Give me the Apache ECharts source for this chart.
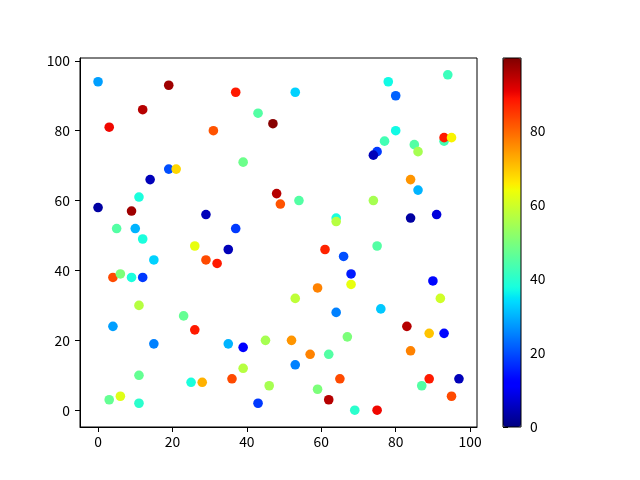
<!DOCTYPE html>
<html>
<head>
<meta charset="utf-8">
<script src="https://cdn.jsdelivr.net/npm/echarts@6/dist/echarts.min.js"></script>
<style>
html,body{margin:0;padding:0;background:#fff;}
#chart{width:640px;height:480px;}
</style>
</head>
<body>
<div id="chart"></div>
<script>
// Data
var xs = [0,19,37,12,43,47,3,31,39,19,21,14,48,49,0,9,29,5,10,37,11,12,53,78,94,80,80,77,85,86,93,93,95,75,74,84,86,54,74,64,64,84,91,26,35,15,29,32,4,6,9,12,11,23,26,4,15,35,39,45,39,11,25,28,36,46,3,6,11,43,75,61,66,68,68,90,59,53,92,64,76,83,89,93,52,67,57,62,84,53,65,89,97,87,59,62,95,69,75];
var ys = [94,93,91,86,85,82,81,80,71,69,69,66,62,59,58,57,56,52,52,52,61,49,91,94,96,90,80,77,76,74,77,78,78,74,73,66,63,60,60,55,54,55,56,47,46,43,43,42,38,39,38,38,30,27,23,24,19,19,18,20,12,10,8,8,9,7,3,4,2,2,47,46,44,39,36,37,35,32,32,28,29,24,22,22,20,21,16,16,17,13,9,9,9,7,6,3,4,0,0];
var cs = [28,97,88,95,45,99,90,82,48,20,68,5,95,82,3,97,5,45,30,18,38,38,33,37,42,22,37,43,45,55,43,88,65,18,5,75,30,45,55,38,57,3,8,63,5,33,83,88,83,50,38,18,57,47,88,28,25,30,12,55,57,47,38,72,83,55,47,62,40,18,45,87,20,15,63,13,77,58,60,25,32,95,70,13,75,50,77,45,77,25,83,88,5,45,50,95,83,40,90];
var tickVals = [0,20,40,60,80,100];
var cbarTicks = [0,20,40,60,80];

var points = xs.map(function(x,i){return [x, ys[i], cs[i]];});

// matplotlib "jet" colormap, piecewise linear segments
function seg(s, t){
  for (var i=1;i<s.length;i++){
    if (t<=s[i][0]){
      var a=s[i-1], b=s[i];
      var f=(t-a[0])/(b[0]-a[0]);
      return a[1]+(b[1]-a[1])*f;
    }
  }
  return s[s.length-1][1];
}
var R=[[0,0],[0.35,0],[0.66,1],[0.89,1],[1,0.5]];
var G=[[0,0],[0.125,0],[0.375,1],[0.64,1],[0.91,0],[1,0]];
var B=[[0,0.5],[0.11,1],[0.34,1],[0.65,0],[1,0]];
var jet=[];
for (var k=0;k<=100;k++){
  var t=k/100;
  var r=Math.round(seg(R,t)*255), g=Math.round(seg(G,t)*255), b=Math.round(seg(B,t)*255);
  jet.push('rgb('+r+','+g+','+b+')');
}

var font = {fontFamily:'"Noto Sans CJK SC", "Liberation Sans", sans-serif', fontSize:13.9, color:'#000'};
var chart = echarts.init(document.getElementById('chart'), null, {renderer:'canvas'});
chart.setOption({
  animation:false,
  backgroundColor:'#fff',
  grid:[
    {left:80, top:58, width:397, height:369, show:true, borderColor:'#000', borderWidth:1, backgroundColor:'transparent'},
    {left:503, top:58, width:18, height:369, show:false}
  ],
  xAxis:[
    {gridIndex:0, type:'value', min:-4.85, max:101.85,
     axisLine:{show:true, onZero:false, lineStyle:{color:'#000', width:1}},
     axisTick:{show:true, customValues:tickVals, length:5, lineStyle:{color:'#000', width:1}},
     axisLabel:Object.assign({customValues:tickVals, margin:8}, font),
     splitLine:{show:false}},
    {gridIndex:1, type:'value', min:0, max:1, show:false}
  ],
  yAxis:[
    {gridIndex:0, type:'value', min:-4.8, max:100.8,
     axisLine:{show:true, onZero:false, lineStyle:{color:'#000', width:1}},
     axisTick:{show:true, customValues:tickVals, length:5, lineStyle:{color:'#000', width:1}},
     axisLabel:Object.assign({customValues:tickVals, margin:10}, font),
     splitLine:{show:false}},
    {gridIndex:1, type:'value', min:0, max:99.7, position:'right',
     axisLine:{show:false},
     axisTick:{show:true, customValues:cbarTicks, length:5, lineStyle:{color:'#000', width:1}},
     axisLabel:Object.assign({customValues:cbarTicks, margin:9}, font),
     splitLine:{show:false}}
  ],
  visualMap:{
    type:'continuous', min:0, max:99.7, dimension:2, seriesIndex:0,
    calculable:false, hoverLink:false, text:null, showLabel:false,
    left:503, top:58, itemWidth:18, itemHeight:369, padding:0,
    borderColor:'#000', borderWidth:0,
    inRange:{color:jet}
  },
  series:[
    {type:'scatter', xAxisIndex:0, yAxisIndex:0, data:points, symbolSize:9.6,
     itemStyle:{opacity:1}, z:3},
    {type:'line', xAxisIndex:1, yAxisIndex:1, data:[], silent:true}
  ],
  graphic:[]
});
// colorbar outline positioned through the colorbar axes
var p0 = chart.convertToPixel({gridIndex:1}, [0, 0]);
var p1 = chart.convertToPixel({gridIndex:1}, [1, 99.7]);
chart.setOption({graphic:[{type:'rect', z:100, shape:{x:p0[0], y:p1[1], width:p1[0]-p0[0], height:p0[1]-p1[1]},
  style:{fill:'none', stroke:'#000', lineWidth:1}}]});
</script>
</body>
</html>
